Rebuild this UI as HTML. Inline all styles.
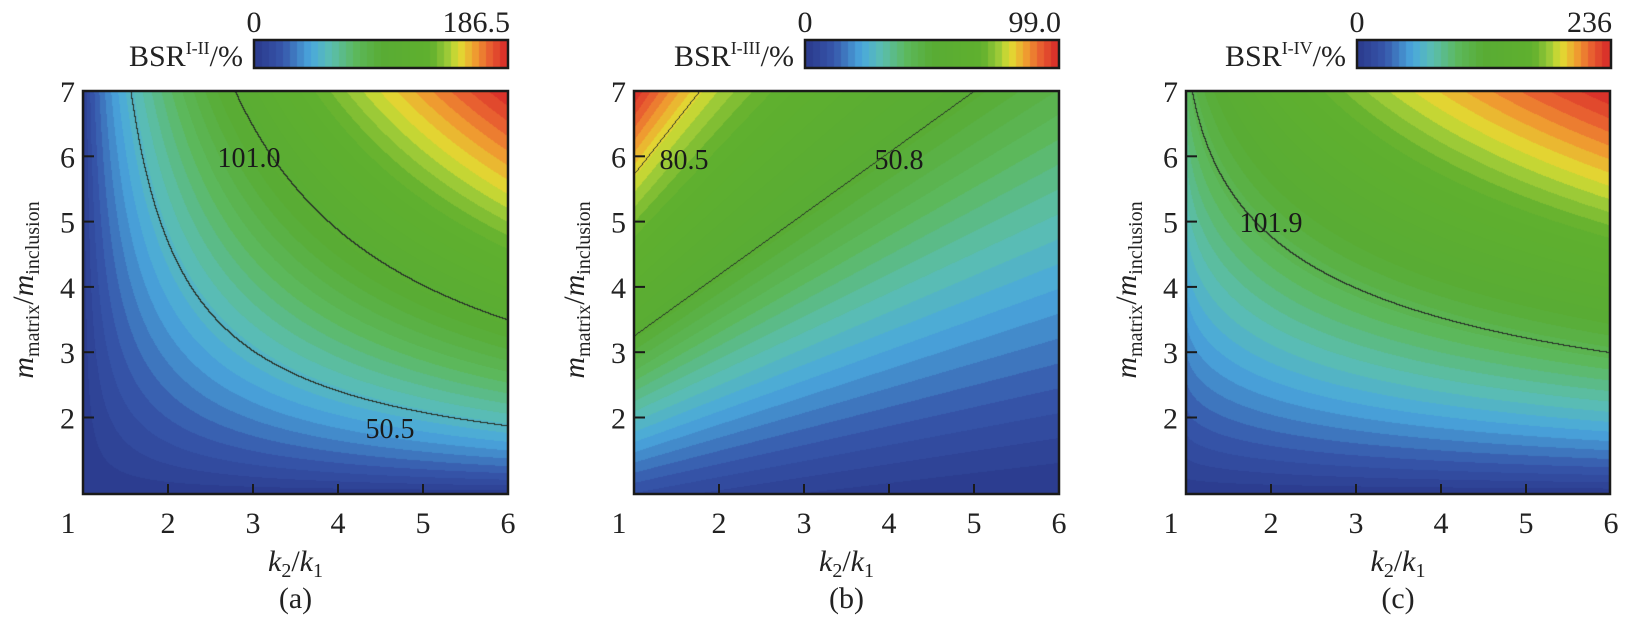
<!DOCTYPE html>
<html><head><meta charset="utf-8"><style>
html,body{margin:0;padding:0;background:#fff;}
#w{position:relative;width:1638px;height:622px;overflow:hidden;font-family:"Liberation Serif",serif;}
canvas{position:absolute;}
svg{position:absolute;left:0;top:0;}
svg text{font-family:"Liberation Serif","DejaVu Serif",serif;}
</style></head><body><div id="w">
<canvas id="p0" width="425" height="403" style="left:83px;top:91px"></canvas>
<canvas id="p1" width="425" height="403" style="left:634px;top:91px"></canvas>
<canvas id="p2" width="424" height="403" style="left:1186px;top:91px"></canvas>
<canvas id="c0" width="254" height="28" style="left:254px;top:40px"></canvas>
<canvas id="c1" width="254" height="28" style="left:805px;top:40px"></canvas>
<canvas id="c2" width="254" height="28" style="left:1356px;top:40px"></canvas>
<svg width="1638" height="622" id="s" fill="#222"></svg>
</div>
<script>
var stops=[[0,[43,57,140]],[0.11,[54,86,170]],[0.22,[74,168,222]],[0.3,[91,190,176]],[0.4,[92,184,92]],[0.5,[88,172,52]],[0.7,[96,176,46]],[0.76,[150,200,55]],[0.81,[225,222,50]],[0.87,[240,160,48]],[0.93,[232,96,48]],[1,[214,40,40]]];
function cmap(v){v=Math.max(0,Math.min(0.9999,v));var N=36;v=(Math.floor(v*N)+0.5)/N;
for(var i=1;i<stops.length;i++){if(v<=stops[i][0]){var a=stops[i-1],b=stops[i],t=(v-a[0])/(b[0]-a[0]);return [0,1,2].map(function(j){return Math.round(a[1][j]+(b[1][j]-a[1][j])*t)});}}return stops[stops.length-1][1];}
function pw(r,pts){if(r<=pts[0][0])return pts[0][1];for(var i=1;i<pts.length;i++){if(r<=pts[i][0]){var a=pts[i-1],b=pts[i];return a[1]+(b[1]-a[1])*(r-a[0])/(b[0]-a[0]);}}return pts[pts.length-1][1];}
var F=[
function(k,m){var x=Math.max(0,(k-1)/5),y=Math.max(0,(m-0.85)/6.15);return Math.pow(x,0.6)*Math.pow(y,0.73);},
function(k,m){var r=Math.max(m,0.85)/(k+2.47);return pw(r,[[0.11,0],[0.937,0.51],[1.65,0.81],[2.02,1]]);},
function(k,m){var x=Math.max(0,(k-1)/5),y=Math.max(0,(m-0.85)/6.15);return Math.pow(y,0.8)*(0.38+0.62*Math.pow(x,0.6));}
];
var LV=[[0.27,0.54],[0.51,0.81],[0.43]];
for(var p=0;p<3;p++){var c=document.getElementById('p'+p),W=c.width,H=c.height,ctx=c.getContext('2d'),im=ctx.createImageData(W,H),V=new Float32Array(W*H);
for(var py=0;py<H;py++)for(var px=0;px<W;px++){V[py*W+px]=F[p](1+px/85,7-py/65.3);}
for(var py=0;py<H;py++)for(var px=0;px<W;px++){var v=V[py*W+px],col=cmap(v),line=false;
LV[p].forEach(function(L){var s=v>=L;if(px+1<W&&(V[py*W+px+1]>=L)!=s)line=true;if(py+1<H&&(V[(py+1)*W+px]>=L)!=s)line=true;});
if(line)col=[40,50,40];var o=(py*W+px)*4;im.data[o]=col[0];im.data[o+1]=col[1];im.data[o+2]=col[2];im.data[o+3]=255;}
ctx.putImageData(im,0,0);
var cb=document.getElementById('c'+p),cc=cb.getContext('2d');for(var i=0;i<cb.width;i++){var col=cmap(i/(cb.width-1));cc.fillStyle='rgb('+col+')';cc.fillRect(i,0,1,cb.height);}
}
var L=[83,634,1186],R=[508,1059,1610],s='';
var cbt=[['0','186.5','I-II'],['0','99.0','I-III'],['0','236','I-IV']],cap=['(a)','(b)','(c)'];
var clab=[[[249,157,'101.0'],[390,428,'50.5']],[[684,159,'80.5'],[899,159,'50.8']],[[1271,222,'101.9']]];
for(var p=0;p<3;p++){var l=L[p],r=R[p];
s+='<rect x="'+l+'" y="91" width="'+(r-l)+'" height="403" fill="none" stroke="#1a1a1a" stroke-width="2.5"/>';
s+='<rect x="'+(l+171)+'" y="40" width="254" height="28" fill="none" stroke="#1a1a1a" stroke-width="2.5"/>';
for(var i=1;i<=6;i++){var x=l+(i-1)*85;if(i>1&&i<6)s+='<line x1="'+x+'" y1="494" x2="'+x+'" y2="484" stroke="#1a1a1a" stroke-width="2"/>';
s+='<text x="'+(i==1?l-15:x)+'" y="533" font-size="30" text-anchor="middle">'+i+'</text>';}
for(var j=2;j<=7;j++){var y=91+(7-j)*65.3;if(j<7)s+='<line x1="'+l+'" y1="'+y+'" x2="'+(l+11)+'" y2="'+y+'" stroke="#1a1a1a" stroke-width="2"/>';
s+='<text x="'+(l-8)+'" y="'+(y+11)+'" font-size="30" text-anchor="end">'+j+'</text>';}
var cx=(l+r)/2;
s+='<text x="'+cx+'" y="571" font-size="30" text-anchor="middle"><tspan font-style="italic">k</tspan><tspan font-size="20" dy="6">2</tspan><tspan dy="-6">/</tspan><tspan font-style="italic">k</tspan><tspan font-size="20" dy="6">1</tspan></text>';
s+='<text x="'+cx+'" y="608" font-size="30" text-anchor="middle">'+cap[p]+'</text>';
s+='<text transform="translate('+(l-50)+',290) rotate(-90)" font-size="30" text-anchor="middle"><tspan font-style="italic">m</tspan><tspan font-size="20" dy="6">matrix</tspan><tspan dy="-6">/</tspan><tspan font-style="italic">m</tspan><tspan font-size="20" dy="6">inclusion</tspan></text>';
s+='<text x="'+(l+171)+'" y="32" font-size="30" text-anchor="middle">'+cbt[p][0]+'</text>';
s+='<text x="'+(r+2)+'" y="32" font-size="30" text-anchor="end">'+cbt[p][1]+'</text>';
s+='<text x="'+(l+160)+'" y="66" font-size="30" text-anchor="end">BSR<tspan font-size="18" dy="-12">'+cbt[p][2]+'</tspan><tspan dy="12">/%</tspan></text>';
clab[p].forEach(function(c){s+='<text x="'+c[0]+'" y="'+(c[1]+10)+'" font-size="28" text-anchor="middle" fill="#1a1a1a">'+c[2]+'</text>';});
}
document.getElementById('s').innerHTML=s;
</script></body></html>
